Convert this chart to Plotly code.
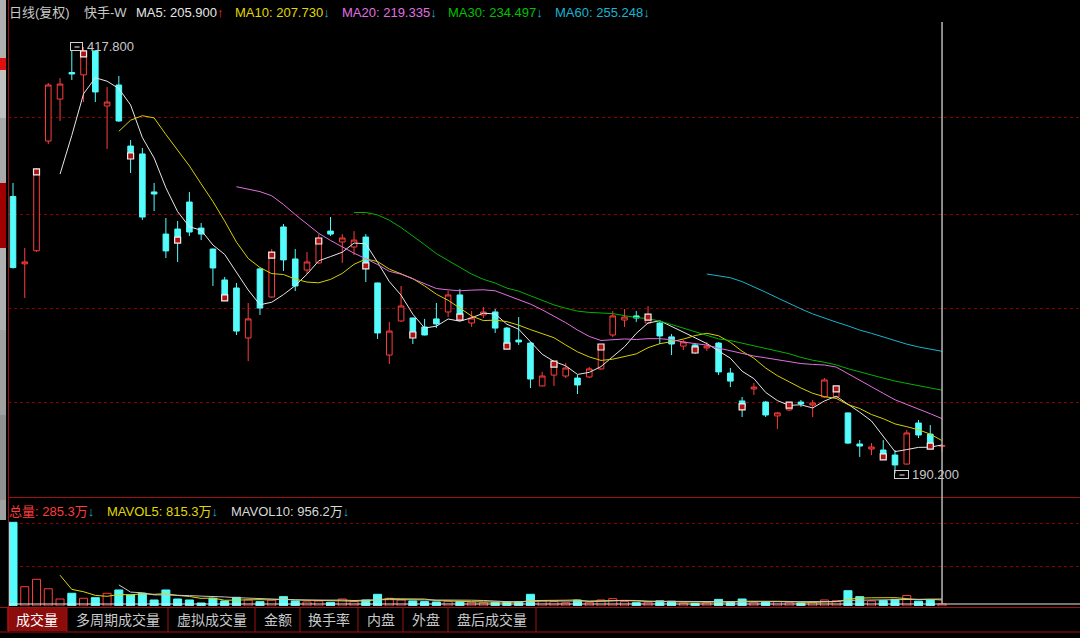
import pandas as pd
import plotly.graph_objects as go

# ---------------- data ----------------
opens = [338.0, 302.0, 309.0, 367.6, 390.0, 404.2, 402.9, 415.7, 386.3, 397.5,
         364.9, 360.7, 340.4, 317.9, 320.6, 335.0, 321.1, 309.9, 293.4, 289.1,
         262.4, 299.3, 284.3, 321.7, 304.6, 298.7, 302.5, 319.5, 313.7, 311.0,
         316.3, 291.8, 253.3, 271.5, 273.1, 268.3, 272.6, 276.3, 285.4, 270.4,
         274.7, 276.3, 267.7, 261.3, 259.7, 236.8, 242.6, 242.1, 241.0, 241.6,
         245.9, 264.0, 272.0, 274.2, 270.4, 270.4, 263.0, 258.1, 258.7, 257.1,
         259.7, 243.7, 228.8, 235.2, 228.2, 220.8, 224.0, 228.2, 226.6, 230.9,
         230.9, 222.4, 205.8, 203.1, 202.6, 199.9, 195.1, 217.0, 211.1, 204.6]
highs = [345.2, 310.5, 353.2, 398.6, 401.2, 416.2, 417.8, 416.0, 396.4, 402.3,
         368.1, 363.9, 345.2, 326.5, 324.9, 340.4, 323.8, 310.2, 295.0, 291.8,
         281.1, 299.8, 309.9, 323.3, 309.9, 308.3, 317.9, 327.0, 317.9, 319.5,
         317.9, 292.0, 271.0, 290.2, 273.3, 272.6, 281.1, 287.5, 288.6, 276.8,
         279.0, 277.9, 268.3, 273.6, 260.3, 244.3, 249.6, 249.1, 242.6, 246.9,
         258.7, 276.8, 277.9, 276.8, 279.5, 271.0, 264.5, 261.3, 259.7, 260.3,
         260.3, 246.4, 230.9, 238.4, 228.8, 222.9, 227.7, 229.3, 229.3, 241.0,
         236.2, 222.6, 207.9, 206.3, 207.9, 202.6, 213.3, 218.6, 215.9, 205.4]
lows = [299.5, 283.8, 308.4, 366.0, 378.3, 400.2, 388.4, 388.4, 363.3, 377.8,
        350.5, 325.4, 330.2, 305.1, 303.0, 316.9, 314.7, 290.2, 282.2, 264.0,
        250.1, 274.7, 283.8, 298.2, 287.5, 296.6, 302.0, 316.9, 302.5, 306.7,
        292.3, 261.9, 248.5, 271.0, 259.2, 263.8, 267.7, 273.6, 273.1, 268.3,
        273.1, 265.1, 257.1, 258.7, 235.7, 236.6, 236.8, 241.0, 232.5, 241.0,
        245.4, 262.9, 268.3, 271.0, 269.9, 259.2, 253.3, 256.0, 253.9, 255.5,
        242.6, 236.2, 220.2, 232.0, 220.2, 213.8, 223.4, 225.6, 220.2, 230.4,
        230.4, 205.8, 198.9, 199.9, 198.3, 190.2, 194.8, 209.0, 203.7, 201.5]
closes = [300.0, 303.0, 351.1, 397.5, 398.0, 403.4, 414.1, 393.8, 388.4, 378.3,
          359.6, 327.0, 339.3, 308.9, 314.7, 319.0, 317.9, 299.8, 283.8, 266.1,
          272.6, 278.4, 306.7, 304.1, 290.2, 303.0, 314.2, 317.9, 315.8, 314.7,
          300.9, 265.1, 266.1, 279.5, 264.0, 264.0, 269.9, 285.4, 273.6, 273.1,
          276.3, 267.7, 258.1, 260.3, 240.5, 242.1, 248.5, 246.4, 237.3, 245.9,
          257.6, 274.2, 273.6, 273.1, 273.6, 263.5, 259.2, 260.3, 256.0, 258.1,
          244.3, 239.4, 225.6, 236.2, 221.3, 222.4, 226.6, 227.2, 227.7, 240.0,
          235.2, 206.3, 204.7, 204.2, 198.9, 194.6, 211.7, 210.6, 204.7, 205.0]
volumes = [11380, 2625, 3630, 2350, 950, 1730, 1050, 1130, 1730, 2180,
           1500, 1730, 820, 2180, 950, 820, 410, 1050, 680, 1180,
           820, 590, 820, 1270, 680, 550, 680, 500, 950, 600,
           820, 1590, 1050, 820, 680, 600, 550, 650, 620, 500,
           450, 500, 550, 600, 1590, 700, 600, 450, 800, 500,
           820, 1000, 600, 450, 500, 700, 650, 400, 350, 450,
           900, 600, 950, 500, 550, 600, 500, 400, 500, 820,
           720, 2080, 1270, 680, 737, 900, 1420, 660, 810, 285.3]  # 万股
info_idx = [2, 6, 10, 14, 18, 22, 26, 30, 34, 38, 42, 46, 50, 54, 58, 62, 66, 70, 74, 78]

ma_periods = [5, 10, 20, 30, 60]
ma_colors = ["#e6e6e6", "#d8d000", "#e070e0", "#00b400", "#18b4d0"]
# (text, colour, arrow, arrow colour)
header_items = [("日线(复权)", "#c8c8c8", "", ""), ("快手-W", "#c8c8c8", "", ""),
                ("MA5: 205.900", "#e6e6e6", "↑", "#ff3030"),
                ("MA10: 207.730", "#e0d800", "↓", "#20b0c0"),
                ("MA20: 219.335", "#e070e0", "↓", "#20b0c0"),
                ("MA30: 234.497", "#00c000", "↓", "#20b0c0"),
                ("MA60: 255.248", "#18b4d0", "↓", "#20b0c0")]
vol_items = [("总量: 285.3万", "#ff3c3c", "↓", "#20b0c0"),
             ("MAVOL5: 815.3万", "#e0d800", "↓", "#20b0c0"),
             ("MAVOL10: 956.2万", "#d8d8d8", "↓", "#20b0c0")]
tabs = ["成交量", "多周期成交量", "虚拟成交量", "金额", "换手率", "内盘", "外盘", "盘后成交量"]
high_label, low_label = "417.800", "190.200"

# ---------------- styling ----------------
W, H = 1080, 638
RED, CYAN = "#ff3c3c", "#54fcfc"
GRID = "#8a0000"
FONT = "Liberation Sans, Arial, Noto Sans CJK SC, sans-serif"

def px(x):
    return x / W

def py(y):
    return 1 - y / H

idx = list(range(len(closes)))
df = pd.DataFrame({"o": opens, "h": highs, "l": lows, "c": closes, "v": volumes}, index=idx)

fig = go.Figure()

fig.add_trace(go.Candlestick(
    x=idx, open=df.o, high=df.h, low=df.l, close=df.c,
    increasing=dict(line=dict(color=RED, width=1), fillcolor="#000000"),
    decreasing=dict(line=dict(color=CYAN, width=1), fillcolor=CYAN),
    whiskerwidth=0, hoverinfo="skip", showlegend=False, xaxis="x", yaxis="y"))

for p, col in zip(ma_periods, ma_colors):
    ma = df.c.rolling(p).mean()
    fig.add_trace(go.Scatter(x=idx, y=ma, mode="lines", line=dict(color=col, width=1),
                             hoverinfo="skip", showlegend=False, xaxis="x", yaxis="y"))

fig.add_trace(go.Scatter(
    x=info_idx, y=[closes[i] for i in info_idx], mode="markers",
    marker=dict(symbol="square", size=6, color="#b01010", line=dict(color="#f0f0f0", width=1.2)),
    hoverinfo="skip", showlegend=False, xaxis="x", yaxis="y"))

up = [c >= o for o, c in zip(opens, closes)]
fig.add_trace(go.Bar(
    x=idx, y=df.v, width=0.68,
    marker=dict(color=["#000000" if u else CYAN for u in up],
                line=dict(color=[RED if u else CYAN for u in up], width=1)),
    hoverinfo="skip", showlegend=False, xaxis="x2", yaxis="y2"))
for p, col in zip([5, 10], ["#e0d800", "#c8c8c8"]):
    fig.add_trace(go.Scatter(x=idx, y=df.v.rolling(p).mean(), mode="lines",
                             line=dict(color=col, width=1), hoverinfo="skip",
                             showlegend=False, xaxis="x2", yaxis="y2"))

# axes: price 417.8 at y=47px, 0.534 per px
p_top = 417.8 + 0.534 * (47 - 26)
p_bot = 417.8 - 0.534 * (496 - 47)
v_per_px = 136.0
xr = [(8 - 13) / 11.76, (1080 - 13) / 11.76]
common_x = dict(range=xr, showgrid=False, zeroline=False, showticklabels=False,
                showline=False, ticks="", fixedrange=True)
fig.update_layout(
    width=W, height=H, margin=dict(l=0, r=0, t=0, b=0),
    paper_bgcolor="#000000", plot_bgcolor="#000000",
    boxgap=0.32, bargap=0.3,
    font=dict(family=FONT, size=13, color="#c8c8c8"),
    xaxis=dict(domain=[px(8), 1], anchor="y", rangeslider=dict(visible=False), **common_x),
    xaxis2=dict(domain=[px(8), 1], anchor="y2", matches="x", **common_x),
    yaxis=dict(domain=[py(496), py(26)], range=[p_bot, p_top],
               tickvals=[228.0, 278.4, 328.6, 379.9], showticklabels=False, ticks="",
               gridcolor=GRID, griddash="dot", gridwidth=1, zeroline=False, fixedrange=True),
    yaxis2=dict(domain=[py(606), py(498)], range=[0, (606 - 498) * v_per_px],
                tickvals=[40 * v_per_px, 83 * v_per_px], showticklabels=False, ticks="",
                gridcolor=GRID, griddash="dot", gridwidth=1, zeroline=False, fixedrange=True),
    showlegend=False,
)

shapes = []
shapes.append(dict(type="line", xref="paper", yref="paper", x0=px(8), x1=1, y0=py(497.5), y1=py(497.5),
                   line=dict(color="#a01010", width=1)))
shapes.append(dict(type="line", xref="paper", yref="paper", x0=px(8), x1=1, y0=py(604), y1=py(604),
                   line=dict(color="#e8e8e8", width=1)))
shapes.append(dict(type="line", xref="paper", yref="paper", x0=px(8.5), x1=px(8.5), y0=py(632), y1=py(0),
                   line=dict(color="#a01010", width=1)))
shapes.append(dict(type="line", xref="x", yref="paper", x0=idx[-1], x1=idx[-1], y0=py(604), y1=py(22),
                   line=dict(color="#b8b8b8", width=1.5)))
strip = [(0, 58, "#b0b0b0"), (58, 70, "#e01010"), (70, 118, "#c0c0c0"), (118, 183, "#a8a8a8"),
         (183, 248, "#a00000"), (248, 330, "#b0b0b0"), (330, 415, "#a0a0a0"), (415, 500, "#909090"),
         (500, 520, "#a0a0a0")]
for y0, y1, col in strip:
    shapes.append(dict(type="rect", xref="paper", yref="paper", x0=0, x1=px(6), y0=py(y1), y1=py(y0),
                       fillcolor=col, line=dict(width=0), layer="below"))
shapes.append(dict(type="line", xref="paper", yref="paper", x0=0, x1=1, y0=py(607.5), y1=py(607.5),
                   line=dict(color="#a01010", width=1)))
shapes.append(dict(type="line", xref="paper", yref="paper", x0=0, x1=1, y0=py(632), y1=py(632),
                   line=dict(color="#a01010", width=1)))
tab_edges = [7, 67, 168, 255, 300, 358, 403, 448, 536]
shapes.append(dict(type="rect", xref="paper", yref="paper", x0=px(tab_edges[0]), x1=px(tab_edges[1]),
                   y0=py(631), y1=py(608), fillcolor="#8c0c0c", line=dict(width=0), layer="below"))
for e in tab_edges[1:]:
    shapes.append(dict(type="line", xref="paper", yref="paper", x0=px(e), x1=px(e), y0=py(632), y1=py(608),
                       line=dict(color="#a01010", width=1)))


def label(t, col, arr, acol):
    s = t
    if arr:
        s += "<span style='color:%s'>%s</span>" % (acol, arr)
    return s


annotations = []
hx = [7, 82, 134, 233, 340, 446, 553]
for (t, col, arr, acol), x in zip(header_items, hx):
    annotations.append(dict(text=label(t, col, arr, acol), x=px(x), y=py(12.5), xref="paper", yref="paper",
                            xanchor="left", yanchor="middle", showarrow=False, font=dict(color=col, size=13)))
vx = [7, 105, 229]
for (t, col, arr, acol), x in zip(vol_items, vx):
    annotations.append(dict(text=label(t, col, arr, acol), x=px(x), y=py(511), xref="paper", yref="paper",
                            xanchor="left", yanchor="middle", showarrow=False, font=dict(color=col, size=13)))
for i, t in enumerate(tabs):
    cx = (tab_edges[i] + tab_edges[i + 1]) / 2
    annotations.append(dict(text=t, x=px(cx), y=py(620), xref="paper", yref="paper", xanchor="center",
                            yanchor="middle", showarrow=False,
                            font=dict(color="#ffffff" if i == 0 else "#c8c8c8", size=14)))
hi_i = highs.index(max(highs))
lo_i = lows.index(min(lows))
annotations.append(dict(text="═", x=hi_i, y=max(highs), xref="x", yref="y", xanchor="center", yanchor="middle",
                        xshift=-7, showarrow=False, width=11, height=7, bordercolor="#d0d0d0",
                        borderwidth=1, borderpad=0, font=dict(size=7, color="#d0d0d0")))
annotations.append(dict(text=high_label, x=hi_i, y=max(highs), xref="x", yref="y", xanchor="left",
                        yanchor="middle", xshift=1, showarrow=False, font=dict(color="#c8c8c8", size=13)))
annotations.append(dict(text="═", x=lo_i, y=min(lows), xref="x", yref="y", xanchor="center", yanchor="middle",
                        xshift=6, yshift=-1, showarrow=False, width=13, height=7, bordercolor="#d0d0d0",
                        borderwidth=1, borderpad=0, font=dict(size=7, color="#d0d0d0")))
annotations.append(dict(text=low_label, x=lo_i, y=min(lows), xref="x", yref="y", xanchor="left",
                        yanchor="middle", xshift=15, yshift=-1, showarrow=False,
                        font=dict(color="#c8c8c8", size=13)))

fig.update_layout(shapes=shapes, annotations=annotations)
fig.write_html("out.html", config={"displayModeBar": False},
               post_script="document.body.style.margin='0';document.body.style.background='#000';")
